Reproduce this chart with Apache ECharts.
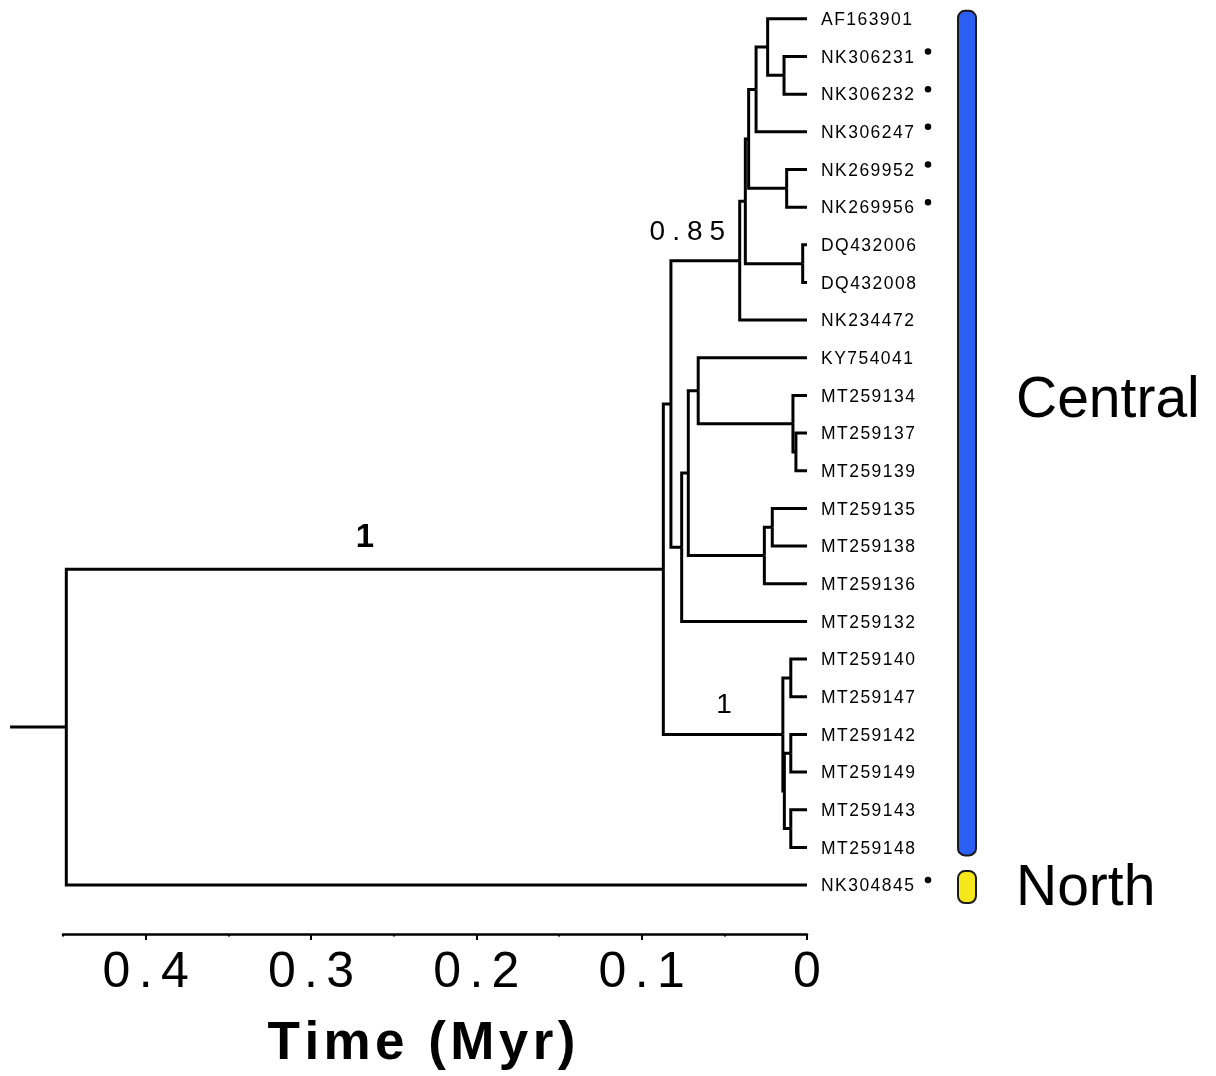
<!DOCTYPE html>
<html>
<head>
<meta charset="utf-8">
<script src="https://cdn.jsdelivr.net/npm/echarts@6/dist/echarts.min.js"></script>
<style>
  html, body { margin: 0; padding: 0; background: #fff; }
  #main { width: 1216px; height: 1076px; }
</style>
</head>
<body>
<div id="main"></div>
<script>
// tips, top to bottom
const tips = ['AF163901', 'NK306231', 'NK306232', 'NK306247', 'NK269952', 'NK269956',
  'DQ432006', 'DQ432008', 'NK234472', 'KY754041', 'MT259134', 'MT259137', 'MT259139',
  'MT259135', 'MT259138', 'MT259136', 'MT259132', 'MT259140', 'MT259147', 'MT259142',
  'MT259149', 'MT259143', 'MT259148', 'NK304845'];
const dotted = ['NK306231', 'NK306232', 'NK306247', 'NK269952', 'NK269956', 'NK304845'];

// internal nodes: id, age (Myr), children
const nodeIds = ['B', 'A', 'C', 'D', 'E', 'F', 'G', 'H', 'O', 'N', 'L', 'P', 'M', 'K', 'J', 'I',
  'R', 'S', 'T', 'U', 'Q', 'X', 'root'];
const nodeAges = [0.0139, 0.0238, 0.0308, 0.0123, 0.0353, 0.0026, 0.0373, 0.0407, 0.0067, 0.0085,
  0.0658, 0.0210, 0.0258, 0.0718, 0.0758, 0.0823, 0.0098, 0.0098, 0.0098, 0.0137, 0.0146, 0.0869, 0.4480];
const nodeKids = [
  ['NK306231', 'NK306232'], ['AF163901', 'B'], ['A', 'NK306247'], ['NK269952', 'NK269956'],
  ['C', 'D'], ['DQ432006', 'DQ432008'], ['E', 'F'], ['G', 'NK234472'],
  ['MT259137', 'MT259139'], ['MT259134', 'O'], ['KY754041', 'N'], ['MT259135', 'MT259138'],
  ['P', 'MT259136'], ['L', 'M'], ['K', 'MT259132'], ['H', 'J'],
  ['MT259140', 'MT259147'], ['MT259142', 'MT259149'], ['MT259143', 'MT259148'], ['S', 'T'],
  ['R', 'U'], ['I', 'Q'], ['X', 'NK304845']
];
const rootBranch = 0.034;

// posterior support on the branch leading to a node
const supportNodes = ['X', 'H', 'Q'];
const supportValues = ['1', '0.85', '1'];

// clade bars
const clades = ['Central', 'North'];
const cladeFirst = ['AF163901', 'NK304845'];
const cladeLast = ['MT259148', 'NK304845'];
const cladeColors = ['#2b5ef2', '#f5e71a'];

const majorTicks = [0, 0.1, 0.2, 0.3, 0.4];
const minorTicks = [0.05, 0.15, 0.25, 0.35, 0.45];

const FONT = '"Liberation Sans", Arial, Helvetica, sans-serif';
const spaced = (s, ch) => s.split('').join(ch);

// node positions
const age = {}, ypos = {};
tips.forEach((t, i) => { age[t] = 0; ypos[t] = i; });
nodeIds.forEach((id, k) => {
  age[id] = nodeAges[k];
  ypos[id] = (ypos[nodeKids[k][0]] + ypos[nodeKids[k][1]]) / 2;
});
const parentOf = {};
nodeIds.forEach((id, k) => nodeKids[k].forEach(c => { parentOf[c] = id; }));

const branches = [];
nodeIds.forEach((id, k) => {
  nodeKids[k].forEach(c => {
    branches.push({ coords: [[age[id], ypos[id]], [age[id], ypos[c]], [age[c], ypos[c]]] });
  });
});
branches.push({ coords: [[age.root + rootBranch, ypos.root], [age.root, ypos.root]] });

const supportStyles = [
  { fontSize: 33, fontWeight: 'bold', offset: [0, -31] },
  { fontSize: 28, offset: [-18, -28] },
  { fontSize: 28, offset: [1, -29] }
];
const supportData = supportNodes.map((n, i) => {
  const p = parentOf[n];
  return {
    value: [(age[p] + age[n]) / 2, ypos[n]],
    name: supportValues[i],
    label: Object.assign({ color: '#000', textBorderWidth: 0 }, supportStyles[i])
  };
});

var myChart = echarts.init(document.getElementById('main'), null, { renderer: 'canvas' });
myChart.setOption({
  backgroundColor: '#fff',
  animation: false,
  grid: { left: 63, right: 409, top: 0, bottom: 141 },
  xAxis: [{
    type: 'value', inverse: true, min: 0, max: 0.45, position: 'bottom',
    axisLine: { show: true, onZero: false, lineStyle: { color: '#000', width: 2.5 } },
    axisTick: { show: true, length: 6, customValues: majorTicks, lineStyle: { color: '#000', width: 2 } },
    axisLabel: {
      customValues: majorTicks, margin: 14, color: '#000', fontSize: 50, fontFamily: FONT,
      formatter: v => spaced(String(+v.toFixed(2)), '\u2006')
    },
    splitLine: { show: false },
    name: spaced('Time (Myr)', '\u200A'),
    nameLocation: 'middle', nameGap: 84,
    nameTextStyle: { fontSize: 53, fontWeight: 'bold', color: '#000', fontFamily: FONT, padding: [0, 27, 0, 0] }
  }, {
    type: 'value', inverse: true, min: 0, max: 0.45, position: 'bottom', offset: 0,
    axisLine: { show: false, onZero: false },
    axisTick: { show: true, length: 2.5, customValues: minorTicks, lineStyle: { color: '#000', width: 2 } },
    axisLabel: { show: false },
    splitLine: { show: false }
  }],
  yAxis: { type: 'value', inverse: true, min: -0.5, max: 24.3, show: false },
  series: [
    {
      type: 'lines', coordinateSystem: 'cartesian2d', polyline: true, clip: false, silent: true,
      lineStyle: { color: '#000', width: 3, opacity: 1, curveness: 0, join: 'miter' },
      data: branches
    },
    {
      type: 'scatter', symbolSize: 0, silent: true, clip: false,
      itemStyle: { opacity: 1 },
      data: tips.map((t, i) => ({ value: [0, i], name: t })),
      label: {
        show: true, position: 'right', distance: 14, offset: [0, 1.5],
        color: '#000', fontSize: 17.5, fontFamily: FONT,
        formatter: p => spaced(p.name, '\u200A')
      }
    },
    {
      type: 'scatter', symbol: 'circle', symbolSize: 6.5, symbolOffset: [121, -5], clip: false, silent: true,
      itemStyle: { color: '#000', opacity: 1 },
      data: dotted.map(t => [0, tips.indexOf(t)])
    },
    {
      type: 'scatter', symbolSize: 0, clip: false, silent: true,
      itemStyle: { opacity: 1 },
      data: supportData,
      label: {
        show: true, position: 'inside', color: '#000', fontFamily: FONT,
        formatter: p => spaced(p.name, '\u2005')
      }
    },
    {
      type: 'custom', coordinateSystem: 'cartesian2d', clip: false, silent: true,
      data: clades.map((c, i) => [tips.indexOf(cladeFirst[i]), tips.indexOf(cladeLast[i]), i]),
      renderItem: (params, api) => {
        const i = api.value(2);
        const a = api.coord([0, api.value(0)]);
        const b = api.coord([0, api.value(1)]);
        const x = a[0] + 151;
        let top = a[1] - 8, bottom = b[1] + 8;
        if (bottom - top < 32) {
          const c = (top + bottom) / 2 + 2;
          top = c - 16; bottom = c + 16;
        }
        const ly = i === 0 ? (top + bottom) / 2 - 31.5 : (top + bottom) / 2 + 2;
        return {
          type: 'group',
          children: [
            { type: 'rect', shape: { x: x, y: top, width: 18, height: bottom - top, r: 7 },
              style: { fill: cladeColors[i], stroke: '#1a1a1a', lineWidth: 2 } },
            { type: 'text', x: x + 58, y: ly,
              style: { text: clades[i], fontSize: 57, fontFamily: FONT, fill: '#000', verticalAlign: 'middle', align: 'left' } }
          ]
        };
      }
    }
  ]
});
</script>
</body>
</html>
